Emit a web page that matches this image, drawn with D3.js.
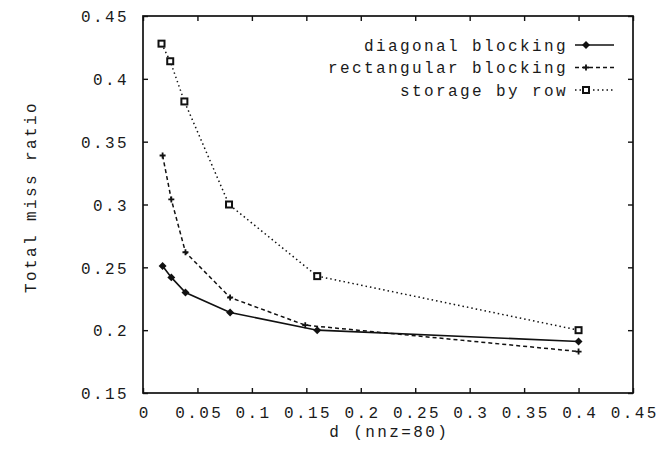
<!DOCTYPE html>
<html>
<head>
<meta charset="utf-8">
<script src="https://cdn.jsdelivr.net/npm/d3@7"></script>
<style>
  html, body { margin: 0; padding: 0; background: #fff; }
  svg text { font-family: "Liberation Mono", "DejaVu Sans Mono", monospace; font-size: 16px; letter-spacing: 2.4px; fill: #1a1a1a; }
</style>
</head>
<body>
<svg id="chart" width="659" height="451"></svg>
<script>
// ---- data ----
const xTicks = [0, 0.05, 0.1, 0.15, 0.2, 0.25, 0.3, 0.35, 0.4, 0.45];
const yTicks = [0.15, 0.2, 0.25, 0.3, 0.35, 0.4, 0.45];

const diagX = [0.018, 0.026, 0.039, 0.08, 0.16, 0.4];
const diagY = [0.251, 0.242, 0.230, 0.214, 0.200, 0.191];

const rectX = [0.018, 0.026, 0.039, 0.08, 0.149, 0.4];
const rectY = [0.339, 0.304, 0.262, 0.226, 0.204, 0.183];

const rowX = [0.017, 0.025, 0.038, 0.079, 0.16, 0.4];
const rowY = [0.428, 0.414, 0.382, 0.300, 0.243, 0.200];

const seriesNames = ["diagonal blocking", "rectangular blocking", "storage by row"];
const xTitle = "d (nnz=80)";
const yTitle = "Total miss ratio";

// ---- layout ----
const W = 659, H = 451;
const margin = { left: 143, top: 16, right: 26, bottom: 58 };
const iw = W - margin.left - margin.right;
const ih = H - margin.top - margin.bottom;

const svg = d3.select("#chart");
const g = svg.append("g").attr("transform", `translate(${margin.left},${margin.top})`);

const x = d3.scaleLinear().domain([0, 0.45]).range([0, iw]);
const y = d3.scaleLinear().domain([0.15, 0.45]).range([ih, 0]);

const fmt = v => v === 0 ? "0" : String(+v.toFixed(2));

// axes with inward ticks
const ax = g.append("g").attr("transform", `translate(0,${ih})`)
  .call(d3.axisBottom(x).tickValues(xTicks).tickSize(-5).tickSizeOuter(0).tickFormat(fmt));
ax.selectAll("text").attr("y", 25).attr("dy", 0).attr("dx", 1.2);

const ay = g.append("g")
  .call(d3.axisLeft(y).tickValues(yTicks).tickSize(-5).tickSizeOuter(0).tickFormat(fmt).tickPadding(14));
ay.selectAll("text").attr("dy", "0.36em");

g.append("g").call(d3.axisTop(x).tickValues(xTicks).tickSize(-5).tickSizeOuter(0).tickFormat(""));
g.append("g").attr("transform", `translate(${iw},0)`)
  .call(d3.axisRight(y).tickValues(yTicks).tickSize(-5).tickSizeOuter(0).tickFormat(""));

g.selectAll(".domain").remove();
g.selectAll(".tick line").attr("stroke", "#111").attr("stroke-width", 1.4);
g.selectAll(".tick text").attr("fill", "#1a1a1a");
svg.selectAll("g").attr("font-family", null).attr("font-size", null);

g.append("rect").attr("x", 0).attr("y", 0).attr("width", iw).attr("height", ih)
  .attr("fill", "none").attr("stroke", "#111").attr("stroke-width", 1.7);

// titles
svg.append("text").attr("x", margin.left + iw / 2 + 1.2).attr("y", 437)
  .attr("text-anchor", "middle").text(xTitle);
svg.append("text").attr("transform", "translate(30,197) rotate(-90)")
  .attr("text-anchor", "middle").attr("dy", "0.35em").text(yTitle);

// series
const series = [
  { name: seriesNames[0], xs: diagX, ys: diagY, dash: null, marker: "diamond" },
  { name: seriesNames[1], xs: rectX, ys: rectY, dash: "4,3", marker: "plus" },
  { name: seriesNames[2], xs: rowX, ys: rowY, dash: "1.5,3", marker: "square" }
];

const line = d3.line().x(d => x(d[0])).y(d => y(d[1]));

function drawMarker(sel, type, cx, cy) {
  if (type === "diamond") {
    sel.append("path").attr("d", d3.symbol().type(d3.symbolDiamond2).size(40)())
      .attr("transform", `translate(${cx},${cy})`).attr("fill", "#111");
  } else if (type === "plus") {
    sel.append("path").attr("d", `M${cx - 3},${cy}H${cx + 3}M${cx},${cy - 3}V${cy + 3}`)
      .attr("stroke", "#111").attr("stroke-width", 1.8).attr("fill", "none");
  } else {
    sel.append("rect").attr("x", cx - 3).attr("y", cy - 3).attr("width", 6).attr("height", 6)
      .attr("fill", "#fff").attr("stroke", "#111").attr("stroke-width", 2);
  }
}

series.forEach(s => {
  const pts = s.xs.map((v, i) => [v, s.ys[i]]);
  g.append("path").datum(pts).attr("d", line)
    .attr("fill", "none").attr("stroke", "#111")
    .attr("stroke-width", s.dash ? 1.5 : 1.6)
    .attr("stroke-dasharray", s.dash);
  const mg = g.append("g");
  pts.forEach(p => drawMarker(mg, s.marker, x(p[0]), y(p[1])));
});

// legend
const lg = svg.append("g");
series.forEach((s, i) => {
  const yy = 45 + i * 22.5;
  lg.append("text").attr("x", 568).attr("y", yy).attr("dy", "0.35em")
    .attr("text-anchor", "end").text(s.name);
  lg.append("line").attr("x1", 575).attr("x2", 614).attr("y1", yy).attr("y2", yy)
    .attr("stroke", "#111").attr("stroke-width", 1.4).attr("stroke-dasharray", s.dash);
  drawMarker(lg, s.marker, 586, yy);
});
</script>
</body>
</html>
